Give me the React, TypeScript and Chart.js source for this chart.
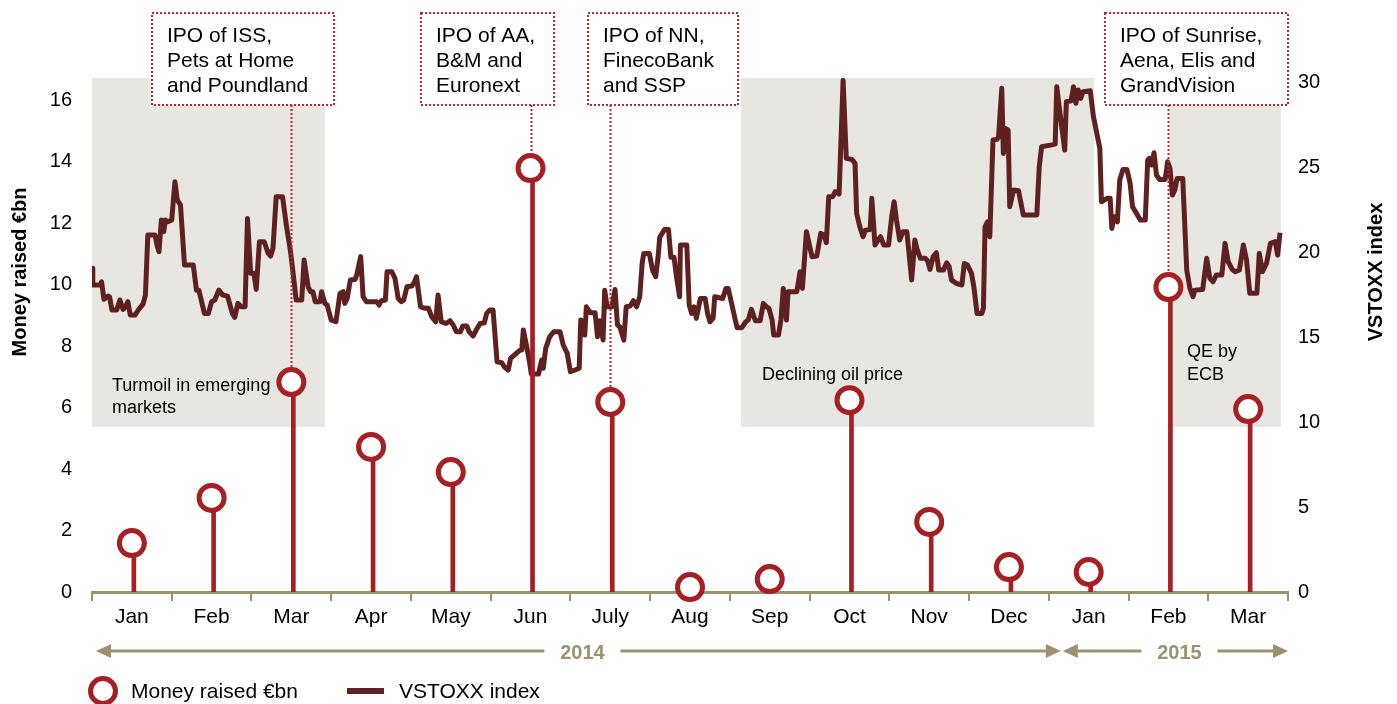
import React, { useEffect, useRef } from 'react';
import { Chart, registerables } from 'chart.js';

Chart.register(...registerables);

// ---------------- data ----------------
const months = ['Jan', 'Feb', 'Mar', 'Apr', 'May', 'Jun', 'July', 'Aug', 'Sep', 'Oct', 'Nov', 'Dec', 'Jan', 'Feb', 'Mar'];

// Money raised in IPOs, EUR bn (left axis)
const moneyRaised = [1.59, 3.06, 6.83, 4.72, 3.9, 13.79, 6.18, 0.16, 0.42, 6.24, 2.28, 0.81, 0.65, 9.92, 5.95];

// VSTOXX index: position in months since 1 Jan 2014, and index level (right axis)
const vstoxxMonth = [
  0.0, 0.01, 0.1, 0.12, 0.15, 0.2, 0.22, 0.25, 0.31, 0.35, 0.39, 0.42, 0.45, 0.48, 0.54, 0.58, 0.64, 0.67, 0.7, 0.79,
  0.82, 0.84, 0.87, 0.9, 0.92, 0.95, 1.0, 1.04, 1.07, 1.11, 1.16, 1.27, 1.31, 1.34, 1.41, 1.46, 1.5, 1.54, 1.59, 1.64,
  1.7, 1.76, 1.79, 1.83, 1.87, 1.92, 1.95, 1.99, 2.03, 2.06, 2.1, 2.16, 2.21, 2.24, 2.27, 2.31, 2.39, 2.44, 2.49, 2.54,
  2.56, 2.63, 2.66, 2.71, 2.74, 2.77, 2.8, 2.86, 2.88, 2.92, 2.95, 3.0, 3.06, 3.11, 3.15, 3.17, 3.2, 3.24, 3.3, 3.32,
  3.37, 3.4, 3.44, 3.57, 3.6, 3.63, 3.68, 3.7, 3.76, 3.8, 3.84, 3.88, 3.91, 3.95, 4.01, 4.04, 4.07, 4.12, 4.18, 4.22,
  4.26, 4.31, 4.34, 4.38, 4.44, 4.49, 4.53, 4.57, 4.62, 4.65, 4.7, 4.73, 4.78, 4.83, 4.87, 4.92, 4.95, 4.99, 5.03, 5.08,
  5.14, 5.17, 5.22, 5.25, 5.31, 5.36, 5.39, 5.41, 5.45, 5.49, 5.51, 5.6, 5.64, 5.66, 5.69, 5.74, 5.79, 5.87, 5.91, 5.96,
  6.0, 6.06, 6.11, 6.13, 6.16, 6.18, 6.2, 6.25, 6.31, 6.34, 6.37, 6.41, 6.43, 6.46, 6.52, 6.56, 6.59, 6.62, 6.67, 6.7,
  6.75, 6.79, 6.83, 6.87, 6.9, 6.92, 6.99, 7.03, 7.07, 7.1, 7.12, 7.18, 7.23, 7.26, 7.3, 7.33, 7.37, 7.38, 7.46, 7.49,
  7.52, 7.55, 7.58, 7.63, 7.69, 7.72, 7.75, 7.79, 7.81, 7.91, 7.95, 7.98, 8.04, 8.09, 8.15, 8.2, 8.23, 8.27, 8.32, 8.38,
  8.42, 8.46, 8.49, 8.53, 8.55, 8.61, 8.64, 8.67, 8.71, 8.73, 8.84, 8.88, 8.91, 8.96, 9.03, 9.09, 9.14, 9.18, 9.21, 9.24,
  9.29, 9.32, 9.37, 9.42, 9.46, 9.53, 9.57, 9.59, 9.63, 9.67, 9.7, 9.76, 9.78, 9.82, 9.86, 9.89, 9.93, 9.99, 10.03, 10.06,
  10.09, 10.13, 10.17, 10.22, 10.28, 10.32, 10.35, 10.39, 10.45, 10.48, 10.51, 10.55, 10.59, 10.62, 10.68, 10.72, 10.75,
  10.78, 10.84, 10.91, 10.94, 10.98, 11.03, 11.06, 11.1, 11.16, 11.18, 11.2, 11.23, 11.26, 11.3, 11.35, 11.37, 11.41,
  11.43, 11.46, 11.49, 11.51, 11.56, 11.62, 11.68, 11.85, 11.88, 11.91, 12.02, 12.08, 12.1, 12.13, 12.2, 12.22, 12.28,
  12.31, 12.34, 12.37, 12.4, 12.43, 12.52, 12.56, 12.64, 12.66, 12.73, 12.77, 12.79, 12.82, 12.86, 12.89, 12.93, 12.98,
  13.02, 13.05, 13.1, 13.15, 13.21, 13.24, 13.26, 13.29, 13.32, 13.35, 13.39, 13.46, 13.49, 13.52, 13.55, 13.58, 13.61,
  13.68, 13.73, 13.77, 13.81, 13.83, 13.93, 13.98, 14.02, 14.06, 14.1, 14.17, 14.21, 14.25, 14.3, 14.34, 14.39, 14.44,
  14.48, 14.52, 14.61, 14.64, 14.68, 14.73, 14.78, 14.84, 14.87, 14.9,
];
const vstoxxValue = [
  19.04, 18.06, 18.06, 18.25, 17.22, 17.41, 17.37, 16.59, 16.59, 17.18, 16.63, 16.78, 17.08, 16.29, 16.29, 16.59, 16.94, 17.47, 21.0, 21.0,
  20.31, 20.02, 21.88, 21.2, 21.88, 21.78, 21.88, 24.14, 23.06, 22.76, 19.24, 19.24, 17.76, 17.76, 16.39, 16.39, 17.08, 17.18, 17.76, 17.47,
  17.41, 16.39, 16.16, 16.98, 16.78, 16.78, 21.98, 18.75, 18.75, 17.8, 20.61, 20.61, 19.92, 19.76, 20.22, 23.25, 23.25, 21.49, 20.02, 18.06,
  17.18, 17.18, 19.53, 17.96, 17.67, 17.67, 17.08, 17.08, 17.67, 16.98, 16.88, 16.0, 15.9, 17.57, 17.67, 16.98, 17.27, 18.35, 18.39, 18.65,
  19.73, 17.37, 17.08, 17.08, 16.88, 17.14, 17.18, 18.84, 18.84, 18.45, 17.27, 17.08, 17.18, 17.96, 18.0, 18.2, 18.55, 16.78, 16.69, 16.69,
  16.2, 15.9, 17.47, 15.9, 15.8, 15.96, 15.71, 15.31, 15.31, 15.65, 15.65, 15.31, 15.06, 15.51, 15.8, 15.84, 16.39, 16.59, 16.59, 13.55,
  13.49, 13.25, 13.06, 13.75, 14.0, 14.2, 14.24, 15.41, 14.47, 13.45, 12.82, 12.82, 13.65, 13.16, 14.33, 15.02, 15.31, 15.31, 14.53, 14.04,
  12.96, 13.06, 13.16, 16.0, 15.9, 15.12, 16.78, 16.43, 16.43, 15.02, 15.96, 14.82, 17.76, 16.78, 16.78, 17.8, 15.71, 15.61, 14.82, 16.78,
  16.82, 17.14, 16.78, 17.37, 19.33, 19.92, 19.92, 18.94, 18.55, 19.73, 20.86, 21.33, 21.33, 19.69, 19.69, 18.55, 17.37, 20.41, 20.41, 16.88,
  16.39, 16.78, 16.1, 17.27, 17.27, 16.39, 15.9, 16.1, 17.37, 17.27, 17.86, 17.86, 16.59, 15.55, 15.55, 15.9, 16.0, 16.63, 15.96, 15.96,
  16.98, 16.78, 16.69, 16.0, 15.12, 15.12, 16.0, 17.86, 16.0, 17.67, 17.67, 18.84, 17.86, 21.2, 19.73, 19.76, 21.1, 21.0, 20.55, 23.25,
  23.25, 23.55, 23.41, 30.1, 25.51, 25.45, 25.22, 22.27, 21.49, 20.9, 21.29, 21.33, 23.16, 20.41, 20.71, 20.9, 20.41, 20.41, 22.08, 22.96,
  21.88, 20.71, 21.2, 21.2, 18.35, 20.71, 20.12, 19.63, 19.63, 19.49, 18.98, 19.73, 19.96, 18.94, 18.94, 19.37, 19.14,
  18.35, 18.16, 18.06, 19.33, 19.24, 18.75, 17.96, 16.39, 16.39, 16.69, 21.49, 21.78, 20.9, 26.59, 26.63, 26.78, 29.63,
  25.8, 27.27, 27.18, 22.67, 23.65, 23.61, 22.18, 22.18, 25.02, 26.2, 26.29, 26.35, 29.73, 28.55, 26.0, 28.84, 28.9,
  29.73, 28.75, 29.53, 29.04, 29.43, 29.49, 27.96, 26.1, 22.96, 23.16, 23.16, 21.39, 22.08, 21.78, 24.24, 24.86, 24.86,
  24.04, 22.67, 22.27, 21.88, 21.88, 25.41, 25.51, 25.12, 25.84, 24.53, 24.27, 24.27, 25.31, 24.92, 23.35, 23.65, 24.33,
  24.33, 18.94, 17.86, 17.37, 17.76, 17.8, 19.63, 18.45, 18.25, 18.65, 18.65, 20.51, 19.43, 18.98, 18.84, 18.94, 20.41,
  19.53, 17.57, 17.57, 19.92, 18.84, 19.33, 20.51, 20.61, 19.82, 21.14,
];

// Shaded periods (in months since 1 Jan 2014) and their captions
const shadedFrom = [0, 8.14, 13.52];
const shadedTo = [2.92, 12.57, 14.91];
const shadedFloor = 5.37; // on money-raised axis
const shadedCaptions = [['Turmoil in emerging', 'markets'], ['Declining oil price'], ['QE by', 'ECB']];

// IPO call-outs: month index and text
const ipoMonth = [2, 5, 6, 13];
const ipoText = [
  ['IPO of ISS,', 'Pets at Home', 'and Poundland'],
  ['IPO of AA,', 'B&M and', 'Euronext'],
  ['IPO of NN,', 'FinecoBank', 'and SSP'],
  ['IPO of Sunrise,', 'Aena, Elis and', 'GrandVision'],
];

const years = ['2014', '2015'];
const yearFrom = [0, 12];
const yearTo = [12, 15];

const leftTitle = 'Money raised €bn';
const rightTitle = 'VSTOXX index';
const legendLabels = ['Money raised €bn', 'VSTOXX index'];

// ---------------- style ----------------
const RED = '#a51f24';
const MAROON = '#5e2120';
const TAN = '#9c9170';
const SHADE = '#e8e6e1';
const DOT = '#c1272d';
const FONT = '"Liberation Sans", Arial, sans-serif';

const captionStyle = [
  { dx: 20, y: [386, 408] },
  { dx: 21, y: [375] },
  { dx: 17, y: [352, 375] },
];
const boxStyle = [
  { dx: -140, w: 182 },
  { dx: -111, w: 133 },
  { dx: -23, w: 150 },
  { dx: -64, w: 183 },
];

const overlay = {
  id: 'overlay',
  beforeDatasetsDraw(chart: any) {
    const { ctx, chartArea, scales } = chart;
    const xl = scales.xl;
    const y = scales.y;
    ctx.save();
    ctx.fillStyle = SHADE;
    const bottom = y.getPixelForValue(shadedFloor);
    shadedFrom.forEach((f, i) => {
      const x0 = xl.getPixelForValue(f);
      const x1 = xl.getPixelForValue(shadedTo[i]);
      ctx.fillRect(x0, chartArea.top, x1 - x0, bottom - chartArea.top);
    });
    ctx.fillStyle = '#000';
    ctx.font = `18px ${FONT}`;
    ctx.textAlign = 'left';
    ctx.textBaseline = 'middle';
    shadedCaptions.forEach((lines, i) => {
      const x0 = xl.getPixelForValue(shadedFrom[i]) + captionStyle[i].dx;
      lines.forEach((t, j) => ctx.fillText(t, x0, captionStyle[i].y[j]));
    });
    ctx.restore();
  },
  afterDatasetsDraw(chart: any) {
    const { ctx, scales } = chart;
    const x = scales.x;
    const y = scales.y;
    ctx.save();
    ipoMonth.forEach((m, i) => {
      const ax = Math.round(x.getPixelForValue(m)) + 0.5;
      const boxTop = 13;
      const boxBottom = 105;
      const circleTop = y.getPixelForValue(moneyRaised[m]) - 15;
      ctx.strokeStyle = DOT;
      ctx.lineWidth = 2;
      ctx.setLineDash([2, 2]);
      ctx.beginPath();
      ctx.moveTo(ax, boxBottom);
      ctx.lineTo(ax, circleTop);
      ctx.stroke();
      const bx = Math.round(ax + boxStyle[i].dx);
      ctx.fillStyle = '#fff';
      ctx.fillRect(bx, boxTop, boxStyle[i].w, boxBottom - boxTop);
      ctx.strokeRect(bx, boxTop, boxStyle[i].w, boxBottom - boxTop);
      ctx.setLineDash([]);
      ctx.fillStyle = '#000';
      ctx.font = `21px ${FONT}`;
      ctx.textAlign = 'left';
      ctx.textBaseline = 'middle';
      ipoText[i].forEach((t, j) => ctx.fillText(t, bx + 15, boxTop + 23 + j * 25));
    });
    ctx.restore();
  },
  afterDraw(chart: any) {
    const { ctx, scales } = chart;
    const xl = scales.xl;
    ctx.save();
    // year arrows
    const ay = 651;
    const head = 15;
    const half = 7;
    ctx.strokeStyle = TAN;
    ctx.fillStyle = TAN;
    ctx.lineWidth = 3;
    years.forEach((label, i) => {
      const x0 = xl.getPixelForValue(yearFrom[i]) + (i === 0 ? 4 : 14);
      const x1 = xl.getPixelForValue(yearTo[i]) + (i === 0 ? 12 : 0);
      const mid = (x0 + x1) / 2 + 4;
      const gap = 38;
      ctx.beginPath();
      ctx.moveTo(x0 + head, ay);
      ctx.lineTo(mid - gap, ay);
      ctx.moveTo(mid + gap, ay);
      ctx.lineTo(x1 - head, ay);
      ctx.stroke();
      ctx.beginPath();
      ctx.moveTo(x0, ay);
      ctx.lineTo(x0 + head, ay - half);
      ctx.lineTo(x0 + head, ay + half);
      ctx.closePath();
      ctx.fill();
      ctx.beginPath();
      ctx.moveTo(x1, ay);
      ctx.lineTo(x1 - head, ay - half);
      ctx.lineTo(x1 - head, ay + half);
      ctx.closePath();
      ctx.fill();
      ctx.font = `bold 20px ${FONT}`;
      ctx.textAlign = 'center';
      ctx.textBaseline = 'middle';
      ctx.fillText(label, mid, ay + 2);
    });
    // legend
    const ly = 691;
    ctx.beginPath();
    ctx.arc(103, ly, 12.5, 0, Math.PI * 2);
    ctx.fillStyle = '#fff';
    ctx.fill();
    ctx.strokeStyle = RED;
    ctx.lineWidth = 5;
    ctx.stroke();
    ctx.strokeStyle = MAROON;
    ctx.lineWidth = 6;
    ctx.beginPath();
    ctx.moveTo(347, ly);
    ctx.lineTo(384, ly);
    ctx.stroke();
    ctx.fillStyle = '#000';
    ctx.font = `21px ${FONT}`;
    ctx.textAlign = 'left';
    ctx.textBaseline = 'middle';
    ctx.fillText(legendLabels[0], 131, ly + 1);
    ctx.fillText(legendLabels[1], 399, ly + 1);
    // axis titles
    ctx.font = `bold 20px ${FONT}`;
    ctx.textAlign = 'center';
    const ty = 272;
    [[20, leftTitle], [1376, rightTitle]].forEach(([tx, t]) => {
      ctx.save();
      ctx.translate(tx as number, ty);
      ctx.rotate(-Math.PI / 2);
      ctx.fillText(t as string, 0, 0);
      ctx.restore();
    });
    ctx.restore();
  },
};

export default function App() {
  const canvasRef = useRef<HTMLCanvasElement | null>(null);

  useEffect(() => {
    if (!canvasRef.current) return;
    Chart.defaults.font.family = FONT;
    Chart.defaults.color = '#000';
    const chart = new Chart(canvasRef.current, {
      type: 'bar',
      data: {
        labels: months,
        datasets: [
          {
            type: 'line',
            label: 'VSTOXX index',
            data: vstoxxMonth.map((m, i) => ({ x: m, y: vstoxxValue[i] })),
            xAxisID: 'xl',
            yAxisID: 'y2',
            borderColor: MAROON,
            borderWidth: 5,
            borderJoinStyle: 'round',
            pointRadius: 0,
            tension: 0,
            order: 3,
          } as any,
          {
            type: 'bar',
            label: 'stems',
            data: moneyRaised,
            xAxisID: 'x',
            yAxisID: 'y',
            backgroundColor: RED,
            barThickness: 4,
            order: 2,
          } as any,
          {
            type: 'line',
            label: 'Money raised €bn',
            data: moneyRaised,
            xAxisID: 'x',
            yAxisID: 'y',
            showLine: false,
            pointRadius: 12.5,
            pointBorderWidth: 5,
            pointBackgroundColor: '#fff',
            pointBorderColor: RED,
            clip: false,
            order: 1,
          } as any,
        ],
      },
      options: {
        responsive: false,
        animation: false,
        layout: { padding: { top: 78, left: 0, right: 0, bottom: 0 } },
        plugins: { legend: { display: false }, tooltip: { enabled: false } },
        scales: {
          x: {
            type: 'category',
            position: 'bottom',
            offset: true,
            grid: {
              offset: true,
              drawOnChartArea: false,
              drawTicks: true,
              tickLength: 9,
              color: TAN,
              lineWidth: 2,
            },
            border: { display: true, color: TAN, width: 3 },
            ticks: { font: { size: 21 }, color: '#000', padding: 4, maxRotation: 0, autoSkip: false },
            afterFit: (s: any) => {
              s.height = 112;
            },
          },
          xl: {
            type: 'linear',
            axis: 'x',
            position: 'bottom',
            display: false,
            offset: false,
            grid: { offset: false },
            min: 0,
            max: 15,
          },
          y: {
            type: 'linear',
            position: 'left',
            min: 0,
            max: 16.72,
            grid: { display: false, drawTicks: false },
            border: { display: false },
            ticks: { stepSize: 2, includeBounds: false, font: { size: 20 }, color: '#000', padding: 20 },
            afterFit: (s: any) => {
              s.width = 92;
            },
          },
          y2: {
            type: 'linear',
            position: 'right',
            min: 0,
            max: 30.24,
            grid: { display: false, drawTicks: false },
            border: { display: false },
            ticks: { stepSize: 5, includeBounds: false, font: { size: 20 }, color: '#000', padding: 10 },
            afterFit: (s: any) => {
              s.width = 109;
            },
          },
        },
      } as any,
      plugins: [overlay],
    });
    return () => chart.destroy();
  }, []);

  return (
    <div style={{ position: 'fixed', left: 0, top: 0, width: 1397, height: 704, background: '#fff' }}>
      <canvas ref={canvasRef} width={1397} height={704} style={{ display: 'block' }} />
    </div>
  );
}
